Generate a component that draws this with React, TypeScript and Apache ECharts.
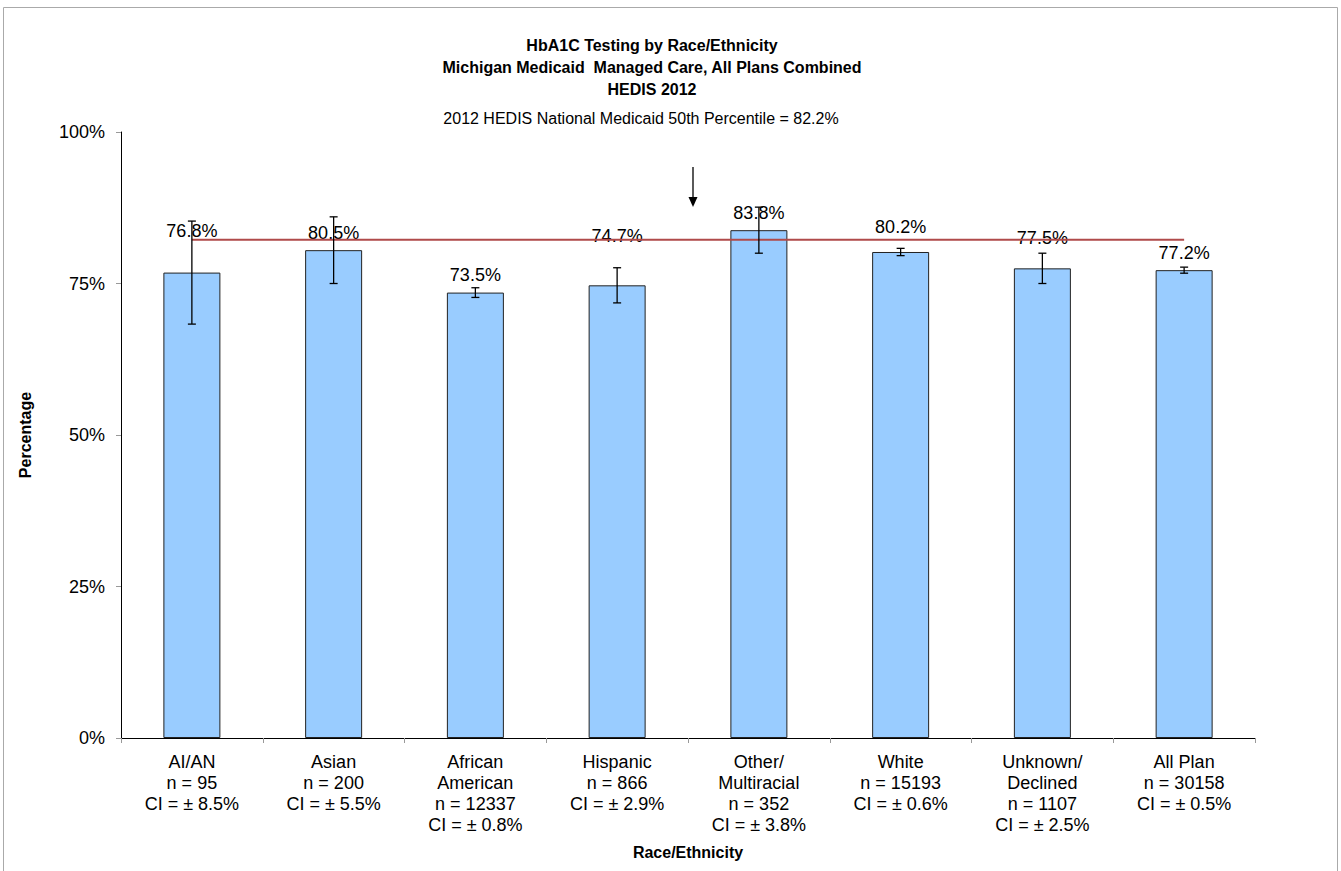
import React, { useEffect, useRef } from "react";
import * as echarts from "echarts";

const categories = [
  "AI/AN",
  "Asian",
  "African\nAmerican",
  "Hispanic",
  "Other/\nMultiracial",
  "White",
  "Unknown/\nDeclined",
  "All Plan",
];
const nValues = [95, 200, 12337, 866, 352, 15193, 1107, 30158];
const rates = [76.8, 80.5, 73.5, 74.7, 83.8, 80.2, 77.5, 77.2];
const ciValues = [8.5, 5.5, 0.8, 2.9, 3.8, 0.6, 2.5, 0.5];
const benchmark = 82.2;
const yTickStep = 25;
// extra lift (px) of each value label above its bar, as placed in the original
const labelLift = [33, 8, 9, 40, 8, 16, 21, 8];

const titleLines = [
  "HbA1C Testing by Race/Ethnicity",
  "Michigan Medicaid  Managed Care, All Plans Combined",
  "HEDIS 2012",
];
const subtitle = "2012 HEDIS National Medicaid 50th Percentile = 82.2%";

const FONT = "'Liberation Sans', Arial, sans-serif";

export default function App() {
  const ref = useRef<HTMLDivElement>(null);
  useEffect(() => {
    if (!ref.current) return;
    const chart = echarts.init(ref.current, null, { renderer: "svg" });
    const errData = rates.map((v, i) => [i, v - ciValues[i], v + ciValues[i]]);
    const option: any = {
      animation: false,
      backgroundColor: "#ffffff",
      textStyle: { fontFamily: FONT },
      grid: { left: 121, top: 132, right: 86, bottom: 133, containLabel: false },
      xAxis: {
        type: "category",
        data: categories,
        boundaryGap: true,
        name: "Race/Ethnicity",
        nameLocation: "middle",
        nameGap: 106,
        nameTextStyle: { fontFamily: FONT, fontWeight: "bold", fontSize: 16, color: "#000" },
        axisLine: { lineStyle: { color: "#000", width: 1 } },
        axisTick: { show: true, alignWithLabel: false, length: 5, lineStyle: { color: "#999" } },
        axisLabel: {
          interval: 0,
          margin: 13,
          fontFamily: FONT,
          fontSize: 18,
          lineHeight: 21,
          color: "#000",
          formatter: (value: string, idx: number) =>
            `${value}\nn = ${nValues[idx]}\nCI = ± ${ciValues[idx]}%`,
        },
        splitLine: { show: false },
      },
      yAxis: {
        type: "value",
        min: 0,
        max: 100,
        interval: yTickStep,
        name: "Percentage",
        nameLocation: "middle",
        nameGap: 88,
        nameRotate: 90,
        nameTextStyle: { fontFamily: FONT, fontWeight: "bold", fontSize: 16, color: "#000" },
        axisLine: { show: true, lineStyle: { color: "#000", width: 1 } },
        axisTick: { show: true, length: 5, lineStyle: { color: "#999" } },
        axisLabel: { formatter: "{value}%", margin: 16, fontFamily: FONT, fontSize: 18, color: "#000" },
        splitLine: { show: false },
      },
      series: [
        {
          type: "bar",
          data: rates.map((v, i) => ({
            value: v,
            label: { distance: labelLift[i] },
          })),
          barWidth: 57,
          itemStyle: { color: "#99CCFF", borderColor: "#222", borderWidth: 1 },
          label: {
            show: true,
            position: "top",
            formatter: (p: any) => `${p.value.toFixed(1)}%`,
            fontFamily: FONT,
            fontSize: 18,
            color: "#000",
          },
          z: 2,
        },
        {
          type: "line",
          data: categories.map(() => benchmark),
          showSymbol: false,
          symbol: "none",
          lineStyle: { color: "#B04A4A", width: 2 },
          z: 3,
        },
        {
          type: "custom",
          data: errData,
          encode: { x: 0, y: [1, 2] },
          z: 4,
          renderItem: (params: any, api: any) => {
            const x = api.value(0);
            const lo = api.coord([x, api.value(1)]);
            const hi = api.coord([x, api.value(2)]);
            const hw = 4;
            const style = { stroke: "#000", lineWidth: 1.3 };
            return {
              type: "group",
              children: [
                { type: "line", shape: { x1: lo[0], y1: lo[1], x2: hi[0], y2: hi[1] }, style },
                { type: "line", shape: { x1: lo[0] - hw, y1: lo[1], x2: lo[0] + hw, y2: lo[1] }, style },
                { type: "line", shape: { x1: hi[0] - hw, y1: hi[1], x2: hi[0] + hw, y2: hi[1] }, style },
              ],
            };
          },
        },
      ],
      graphic: [
        {
          type: "rect",
          shape: { x: 3.5, y: 7.5, width: 1334, height: 900 },
          style: { fill: "none", stroke: "#aaaaaa", lineWidth: 1 },
          silent: true,
          z: -1,
        },
        ...titleLines.map((t, i) => ({
          type: "text",
          x: 652,
          y: 45 + i * 22,
          style: {
            text: t,
            font: `bold 16px ${FONT}`,
            fill: "#000",
            textAlign: "center",
            textVerticalAlign: "middle",
          },
        })),
        {
          type: "text",
          x: 641,
          y: 118,
          style: {
            text: subtitle,
            font: `16px ${FONT}`,
            fill: "#000",
            textAlign: "center",
            textVerticalAlign: "middle",
          },
        },
        {
          type: "line",
          shape: { x1: 693, y1: 167, x2: 693, y2: 198 },
          style: { stroke: "#000", lineWidth: 1.3 },
        },
        {
          type: "polygon",
          shape: { points: [[688.5, 197], [697.5, 197], [693, 207]] },
          style: { fill: "#000" },
        },
      ],
    };
    chart.setOption(option);
    return () => chart.dispose();
  }, []);
  return <div ref={ref} style={{ width: 1341, height: 871, position: "absolute", left: 0, top: 0 }} />;
}
